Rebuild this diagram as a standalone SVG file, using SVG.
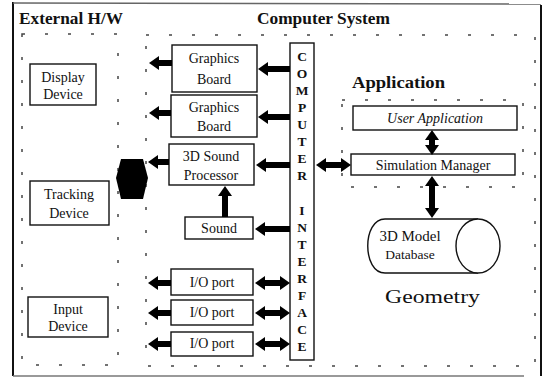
<svg xmlns="http://www.w3.org/2000/svg" width="546" height="379" viewBox="0 0 546 379">
<style>
text{font-family:"Liberation Serif","DejaVu Serif","Times New Roman",serif;fill:#111}
.bx{fill:#fff;stroke:#111;stroke-width:1.4}
.t{font-size:14px;text-anchor:middle}
.ti{font-size:17px;font-weight:bold}
.lt{font-size:13.5px;font-weight:bold;text-anchor:middle}
.grp{fill:none;stroke:#444;stroke-width:1.5;stroke-dasharray:3 20}
.c line{stroke:#000;stroke-width:6}
.ce line{marker-end:url(#ah)}
.cd line{marker-start:url(#ah);marker-end:url(#ah)}
</style>
<defs>
<marker id="ah" markerUnits="userSpaceOnUse" markerWidth="11" markerHeight="14" refX="0" refY="7" orient="auto-start-reverse">
<path d="M0,0 L10,7 L0,14 z" fill="#000"/>
</marker>
</defs>
<rect width="546" height="379" fill="#fff"/>
<line x1="13" y1="2" x2="13" y2="376" stroke="#111" stroke-width="2"/>
<line x1="13" y1="3" x2="541" y2="4" stroke="#666" stroke-width="1.5"/>
<line x1="541" y1="5" x2="541" y2="376" stroke="#111" stroke-width="2"/>
<line x1="13" y1="376" x2="524" y2="376" stroke="#777" stroke-width="1.5"/>
<rect class="grp" x="22" y="34" width="96" height="331"/>
<rect class="grp" x="146" y="35" width="389" height="331"/>
<rect class="grp" x="342" y="100" width="181" height="87"/>
<text class="ti" x="19" y="24" textLength="104" lengthAdjust="spacingAndGlyphs">External H/W</text>
<text class="ti" x="257" y="24" textLength="133" lengthAdjust="spacingAndGlyphs">Computer System</text>
<text x="352" y="88" font-size="17" font-weight="bold" textLength="93" lengthAdjust="spacingAndGlyphs">Application</text>
<text x="385" y="303" font-size="18" textLength="95" lengthAdjust="spacingAndGlyphs">Geometry</text>
<g id="display-device"><rect class="bx" x="30" y="64" width="66" height="41"/><text class="t" x="63" y="82">Display</text><text class="t" x="63" y="99">Device</text></g>
<g id="tracking-device"><rect class="bx" x="30" y="181" width="79" height="44"/><text class="t" x="69" y="199">Tracking</text><text class="t" x="69" y="218">Device</text></g>
<g id="input-device"><rect class="bx" x="28" y="297" width="80" height="40"/><text class="t" x="68" y="314">Input</text><text class="t" x="68" y="331">Device</text></g>
<g id="graphics-board-1"><rect class="bx" x="172" y="45" width="85" height="47"/><text class="t" x="214" y="63">Graphics</text><text class="t" x="214" y="84">Board</text></g>
<g id="graphics-board-2"><rect class="bx" x="171" y="95" width="86" height="42"/><text class="t" x="214" y="112">Graphics</text><text class="t" x="214" y="131">Board</text></g>
<g id="sound-processor"><rect class="bx" x="169" y="144" width="85" height="41"/><text class="t" x="211" y="161">3D Sound</text><text class="t" x="211" y="180">Processor</text></g>
<g id="sound"><rect class="bx" x="185" y="217" width="68" height="22"/><text class="t" x="219" y="233">Sound</text></g>
<g id="io-port-1"><rect class="bx" x="171" y="269" width="82" height="26"/><text class="t" x="212" y="287">I/O port</text></g>
<g id="io-port-2"><rect class="bx" x="171" y="300" width="82" height="25"/><text class="t" x="212" y="317">I/O port</text></g>
<g id="io-port-3"><rect class="bx" x="171" y="332" width="82" height="24"/><text class="t" x="212" y="348">I/O port</text></g>
<g id="computer-interface"><rect class="bx" x="290" y="43" width="24" height="317"/>
<text class="lt" x="302" y="61">C</text><text class="lt" x="302" y="78">O</text><text class="lt" x="302" y="95">M</text><text class="lt" x="302" y="112">P</text><text class="lt" x="302" y="129">U</text><text class="lt" x="302" y="146">T</text><text class="lt" x="302" y="163">E</text><text class="lt" x="302" y="180">R</text>
<text class="lt" x="302" y="215">I</text><text class="lt" x="302" y="232">N</text><text class="lt" x="302" y="249">T</text><text class="lt" x="302" y="266">E</text><text class="lt" x="302" y="283">R</text><text class="lt" x="302" y="300">F</text><text class="lt" x="302" y="317">A</text><text class="lt" x="302" y="334">C</text><text class="lt" x="302" y="351">E</text></g>
<g id="user-application"><rect class="bx" x="353" y="106" width="164" height="24"/><text x="435" y="123" font-size="14" font-style="italic" text-anchor="middle">User Application</text></g>
<g id="simulation-manager"><rect class="bx" x="351" y="154" width="164" height="21"/><text class="t" x="433" y="170">Simulation Manager</text></g>
<g id="model-database">
<path d="M478,219 L385,219 C362,219 362,273 385,273 L478,273" fill="#fff" stroke="#111" stroke-width="1.4"/>
<ellipse cx="478" cy="246" rx="22" ry="27" fill="#fff" stroke="#111" stroke-width="1.4"/>
<text x="410" y="241" font-size="15" text-anchor="middle">3D Model</text><text x="410" y="259" font-size="13.5" text-anchor="middle">Database</text></g>
<g id="connectors" class="c">
<g class="ce">
<line x1="172" y1="63" x2="159" y2="63"/>
<line x1="290" y1="69" x2="268" y2="69"/>
<line x1="171" y1="113" x2="159" y2="113"/>
<line x1="290" y1="117" x2="268" y2="117"/>
<line x1="169" y1="162" x2="158" y2="162"/>
<line x1="290" y1="165" x2="266" y2="165"/>
<line x1="225" y1="217" x2="225" y2="196"/>
<line x1="290" y1="229" x2="265" y2="229"/>
<line x1="171" y1="283" x2="158" y2="283"/>
<line x1="171" y1="313" x2="158" y2="313"/>
<line x1="171" y1="344" x2="158" y2="344"/>
</g>
<g class="cd">
<line x1="265" y1="283" x2="280" y2="283"/>
<line x1="265" y1="313" x2="280" y2="313"/>
<line x1="265" y1="344" x2="280" y2="344"/>
<line x1="326" y1="165" x2="341" y2="165"/>
<line x1="432" y1="140" x2="432" y2="145"/>
<line x1="432" y1="186" x2="432" y2="208"/>
</g>
<path d="M116,178 L121,159 L143,159 L148,178 L143,199 L121,199 Z" fill="#000"/>
</g>
</svg>
